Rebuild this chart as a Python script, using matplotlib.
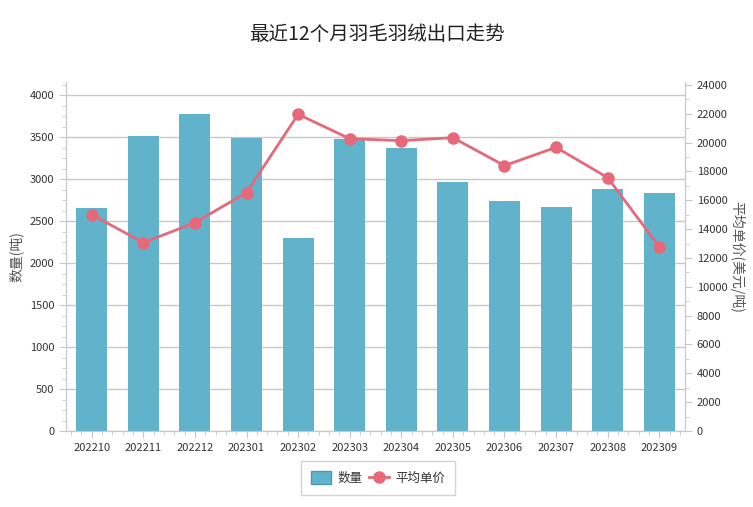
import matplotlib
matplotlib.use("Agg")
import matplotlib.pyplot as plt
from matplotlib.ticker import MultipleLocator, AutoMinorLocator

plt.rcParams['font.family'] = ['Noto Sans CJK SC', 'DejaVu Sans']

months = ["202210", "202211", "202212", "202301", "202302", "202303",
          "202304", "202305", "202306", "202307", "202308", "202309"]
quantity = [2650, 3510, 3775, 3490, 2300, 3475, 3370, 2965, 2740, 2665, 2880, 2835]
price = [15000, 13060, 14450, 16530, 21960, 20270, 20130, 20340, 18400, 19670, 17570, 12780]

bar_color = "#60b3cb"
line_color = "#e5697b"
grid_color = "#c8c8c8"
text_color = "#333333"

fig = plt.figure(figsize=(7.53, 5.07), dpi=100)
ax = fig.add_axes([66 / 753, 1 - 431 / 507, (685 - 66) / 753, (431 - 82) / 507])
ax2 = ax.twinx()

x = list(range(len(months)))
bars = ax.bar(x, quantity, width=0.6, color=bar_color, zorder=2, label="数量")
line, = ax2.plot(x, price, color=line_color, linewidth=2, marker="o", markersize=8,
                 markeredgecolor=line_color, zorder=3, label="平均单价")

ax.set_xlim(-0.5, 11.5)
ax.set_ylim(0, 4155)
ax2.set_ylim(0, 24200)
ax.yaxis.set_major_locator(MultipleLocator(500))
ax.yaxis.set_minor_locator(AutoMinorLocator(4))
ax2.yaxis.set_major_locator(MultipleLocator(2000))
ax2.yaxis.set_minor_locator(AutoMinorLocator(2))
ax.set_xticks(x)
ax.set_xticklabels(months)
ax.xaxis.set_minor_locator(MultipleLocator(0.2))

ax.grid(axis="y", color=grid_color, linewidth=1, zorder=0)
ax.set_axisbelow(True)

for a in (ax, ax2):
    for s in a.spines.values():
        s.set_color(grid_color)
    a.tick_params(which="both", colors=grid_color, labelcolor=text_color, labelsize=8)
    a.tick_params(which="major", length=5)
    a.tick_params(which="minor", length=3)
ax.spines["top"].set_visible(False)
ax2.spines["top"].set_visible(False)
ax2.set_zorder(ax.get_zorder() + 1)
ax2.patch.set_visible(False)

ax.set_ylabel("数量(吨)", fontsize=10, color="#555555", labelpad=4)
ax2.set_ylabel("平均单价(美元/吨)", fontsize=10, color="#555555", rotation=270, labelpad=12)

fig.text(0.5, 1 - 35 / 507, "最近12个月羽毛羽绒出口走势", ha="center", va="center",
         fontsize=14, color="#222222")

leg = fig.legend([bars, line], ["数量", "平均单价"], loc="center",
                 bbox_to_anchor=(378 / 753, 1 - 478 / 507), ncol=2, frameon=True,
                 fancybox=False, edgecolor=grid_color, fontsize=9,
                 handlelength=1.6, handleheight=1.2, columnspacing=0.5,
                 handletextpad=0.5, borderpad=0.8)
leg.legend_handles[0].set_edgecolor("#4a9ab2")
for t in leg.get_texts():
    t.set_color(text_color)

fig.savefig("out.png", dpi=100)
